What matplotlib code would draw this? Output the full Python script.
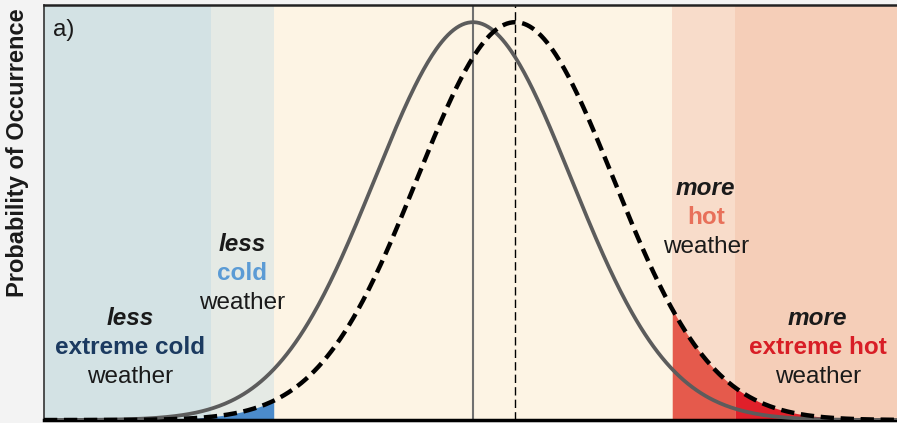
"""Schematic: shift of the temperature distribution (probability of occurrence)."""

import matplotlib.pyplot as plt
import numpy as np

# distribution parameters (units of one standard deviation)
mean_old = 0.0
mean_new = 0.43
sd = 1.0

# background bands (x edges) and their colours
band_edges = [-4.37, -2.67, -2.03, 2.03, 2.67, 4.4]
band_colors = ["#d3e2e4", "#e5eae5", "#fdf4e4", "#f8dcca", "#f5ceb8"]

# tail fills under the shifted curve
fill_ranges = [(-4.37, -2.67), (-2.67, -2.03), (2.03, 2.67), (2.67, 4.4)]
fill_colors = ["#1f3b63", "#4b8bcb", "#e55a4c", "#e0202a"]

# annotation blocks: (x, y of middle word, top word, middle word, middle colour)
labels = [
    (-3.49, 0.182, "less", "extreme cold", "#1b3a60"),
    (-2.35, 0.368, "less", "cold", "#5b9bd5"),
    (2.37, 0.509, "more", "hot", "#e8705a"),
    (3.51, 0.182, "more", "extreme hot", "#d81e26"),
]

plt.rcParams["font.family"] = ["Liberation Sans", "DejaVu Sans"]


def bell(x, mu):
    return np.exp(-0.5 * ((x - mu) / sd) ** 2)


fig = plt.figure(figsize=(8.97, 4.23), dpi=100, facecolor="#f3f3f3")
ax = fig.add_axes([0.049, 0.007, 0.96, 0.981])

for x0, x1, c in zip(band_edges[:-1], band_edges[1:], band_colors):
    ax.axvspan(x0, x1, color=c, lw=0, zorder=0)

for (x0, x1), c in zip(fill_ranges, fill_colors):
    xs = np.linspace(x0, x1, 100)
    ax.fill_between(xs, 0, bell(xs, mean_new), color=c, lw=0, zorder=1)

x = np.linspace(band_edges[0], band_edges[-1], 600)
ax.plot(x, bell(x, mean_old), color="#5c5c5c", lw=2.7, zorder=3, solid_capstyle="butt")
ax.plot(x, bell(x, mean_new), color="black", lw=3.2, ls=(0, (3, 1.5)), zorder=4)
ax.axvline(mean_old, color="#707070", lw=1.5, zorder=2)
ax.axvline(mean_new, color="black", lw=1.0, ls=(0, (6, 3)), zorder=2)

step = 0.074
fs = 17.5
for xt, yt, top, mid, col in labels:
    ax.text(xt, yt + step, top, ha="center", va="center", fontsize=fs,
            fontweight="bold", fontstyle="italic", color="#1a1a1a")
    ax.text(xt, yt, mid, ha="center", va="center", fontsize=fs,
            fontweight="bold", color=col)
    ax.text(xt, yt - step, "weather", ha="center", va="center", fontsize=fs,
            color="#1a1a1a")

ax.text(0.011, 0.94, "a)", transform=ax.transAxes, fontsize=fs,
        ha="left", va="center", color="#1a1a1a")
fig.text(0.02, 0.638, "Probability of Occurrence", rotation=90, ha="center",
         va="center", fontsize=17, fontweight="bold", color="#1a1a1a")

ax.set_xlim(band_edges[0], band_edges[-1])
ax.set_ylim(0, 1.043)
ax.set_xticks([])
ax.set_yticks([])
ax.spines["right"].set_visible(False)
ax.spines["top"].set_linewidth(1.8)
ax.spines["top"].set_color("#222222")
ax.spines["left"].set_linewidth(1.2)
ax.spines["left"].set_color("#333333")
ax.spines["bottom"].set_linewidth(2.5)
ax.spines["bottom"].set_color("black")

fig.savefig("out.png", dpi=100, facecolor=fig.get_facecolor())
